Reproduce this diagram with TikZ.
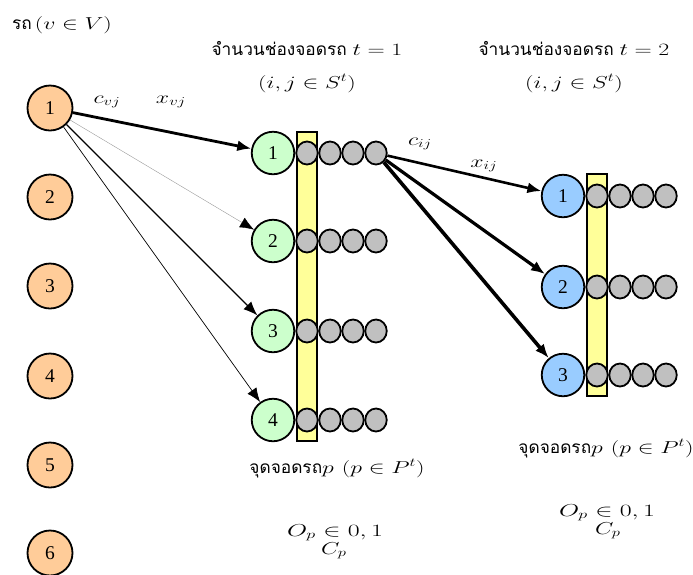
\documentclass[tikz,border=0pt]{standalone}
\usepackage{fontspec}
\usepackage{graphicx}
\newfontfamily\thai[Script=Thai]{Loma}
\newfontfamily\numfont{Liberation Serif}
\usetikzlibrary{arrows.meta,shapes.geometric}

\definecolor{carfill}{HTML}{FFCC99}
\definecolor{spotfillA}{HTML}{CCFFCC}
\definecolor{spotfillB}{HTML}{99CCFF}
\definecolor{slotfill}{HTML}{C0C0C0}
\definecolor{barfill}{HTML}{FFFF99}

% labels are set slightly widened
\newcommand\widelabel[1]{\scalebox{1.38}[1]{#1}}

\tikzset{
  numbered/.style={circle, draw, line width=1.8pt, inner sep=0pt,
              font=\numfont\fontsize{19.5}{21}\selectfont},
  car/.style={numbered, fill=carfill, minimum size=45pt},
  spotA/.style={numbered, fill=spotfillA, minimum size=42.5pt},
  spotB/.style={numbered, fill=spotfillB, minimum size=42.5pt},
  slot/.style={ellipse, draw, line width=1.8pt, fill=slotfill, minimum width=21.5pt,
              minimum height=23pt, inner sep=0pt},
  bar/.style={draw, line width=1.6pt, fill=barfill},
  link/.style={-{Latex[length=14pt,width=11pt,color=black]}},
  lbl/.style={anchor=base, inner sep=0pt, font=\fontsize{17.28}{20}\selectfont},
}

\begin{document}
\begin{tikzpicture}[x=1pt, y=-1pt]
\useasboundingbox (0,0) rectangle (693,574);

% vehicles
\foreach \i/\y in {1/108,2/197,3/286,4/376,5/465,6/553}
  \node[car] (v\i) at (50,\y) {\i};
\node[lbl, anchor=base west] (vlabel) at (12,29)
  {\thai รถ\,\widelabel{$(v\in V)$}};

% parking spots, period 1
\draw[bar] (296.8,131.8) rectangle (317.2,441.2);
\foreach \i/\y in {1/153,2/241,3/331,4/420}{
  \node[spotA] (g\i) at (273,\y) {\i};
  \foreach \k/\x in {1/307,2/330,3/353,4/376}
    \node[slot] (s\i\k) at (\x,\y) {};
}
\node[lbl] (t1a) at (307,55) {\thai จำนวนช่องจอดรถ \widelabel{$t=1$}};
\node[lbl] (t1b) at (307,88) {\widelabel{$(i,j\in S^t)$}};

% parking spots, period 2
\draw[bar] (586.8,173.8) rectangle (607.2,396.2);
\foreach \i/\y in {1/196,2/287,3/375}{
  \node[spotB] (b\i) at (563,\y) {\i};
  \foreach \k/\x in {1/597,2/620,3/643,4/666}
    \node[slot] (r\i\k) at (\x,\y) {};
}
\node[lbl] (t2a) at (574,55) {\thai จำนวนช่องจอดรถ \widelabel{$t=2$}};
\node[lbl] (t2b) at (574,88) {\widelabel{$(i,j\in S^t)$}};

% assignment of vehicles to spots
\draw[link, line width=2.8pt] (v1) -- (g1);
\draw[link, line width=0.4pt, black!40] (v1) -- (g2);
\draw[link, line width=1.1pt] (v1) -- (g3);
\draw[link, line width=0.7pt] (v1) -- (g4);
\node[lbl] (cvj) at (107,103) {\widelabel{$c_{vj}$}};
\node[lbl] (xvj) at (171,103) {\widelabel{$x_{vj}$}};

% transfers between periods
\draw[link, line width=2.6pt] (s14) -- (b1);
\draw[link, line width=3.2pt] (s14) -- (b2);
\draw[link, line width=3.6pt] (s14) -- (b3);
\node[lbl] (cij) at (420,145) {\widelabel{$c_{ij}$}};
\node[lbl] (xij) at (484,167) {\widelabel{$x_{ij}$}};

% spot descriptions
\node[lbl] (p1) at (337,473) {\thai จุดจอดรถ\widelabel{$p\ (p\in P^t)$}};
\node[lbl] (o1) at (335,536) {\scalebox{1.5}[1]{$O_p\in 0,1$}};
\node[lbl] (c1) at (334,554) {\widelabel{$C_p$}};
\node[lbl] (p2) at (606,453) {\thai จุดจอดรถ\widelabel{$p\ (p\in P^t)$}};
\node[lbl] (o2) at (607,516) {\scalebox{1.5}[1]{$O_p\in 0,1$}};
\node[lbl] (c2) at (608,534) {\widelabel{$C_p$}};
\end{tikzpicture}
\end{document}
